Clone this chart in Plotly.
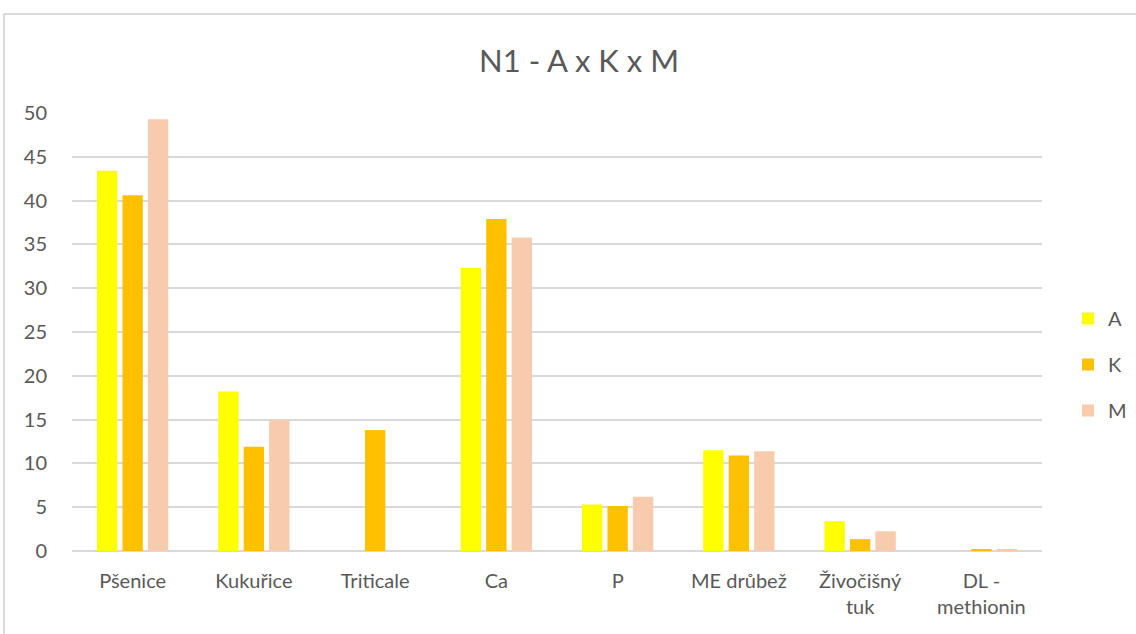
import plotly.graph_objects as go

categories = ["Pšenice", "Kukuřice", "Triticale", "Ca", "P", "ME drůbež",
              "Živočišný<br>tuk", "DL -<br>methionin"]
series_names = ["A", "K", "M"]
values_a = [43.4, 18.2, 0, 32.3, 5.3, 11.5, 3.4, 0]
values_k = [40.6, 11.9, 13.8, 37.9, 5.15, 10.9, 1.35, 0.2]
values_m = [49.3, 15.0, 0, 35.8, 6.2, 11.4, 2.25, 0.2]
colors = ["#FFFF00", "#FFC000", "#F8CBAD"]
y_ticks = [0, 5, 10, 15, 20, 25, 30, 35, 40, 45, 50]

font_family = "Lato, Open Sans, sans-serif"
grey_text = "#595959"
grid = "#D9D9D9"

fig = go.Figure()
for name, vals, col in zip(series_names, [values_a, values_k, values_m], colors):
    fig.add_trace(go.Bar(
        x=categories, y=vals, name=name, legendgroup=name,
        marker=dict(color=col, line=dict(width=0)),
    ))

L, R, T, B = 72, 94, 113, 83
W, H = 1136, 634
pw, ph = W - L - R, H - T - B

def px_x(x):
    return (x - L) / pw

def px_y(y):
    return (H - B - y) / ph

# outer chart frame (top and left edges visible)
fig.add_shape(type="line", xref="paper", yref="paper",
              x0=px_x(4), x1=px_x(1140), y0=px_y(14), y1=px_y(14),
              line=dict(color="#D9D9D9", width=2))
fig.add_shape(type="line", xref="paper", yref="paper",
              x0=px_x(4), x1=px_x(4), y0=px_y(14), y1=px_y(640),
              line=dict(color="#D9D9D9", width=2))

fig.update_layout(
    width=W, height=H,
    margin=dict(l=L, r=R, t=T, b=B, autoexpand=False),
    paper_bgcolor="white", plot_bgcolor="white",
    barmode="group", bargap=0.37, bargroupgap=0.2,
    title=dict(text="N1 - A x K x M", x=579 / W, xanchor="center", xref="container",
               y=1 - 61 / H, yanchor="middle",
               font=dict(family=font_family, size=31, color=grey_text)),
    font=dict(family=font_family, size=20, color=grey_text),
    legend=dict(x=px_x(1068), y=px_y(299), xanchor="left", yanchor="top",
                traceorder="grouped", tracegroupgap=17,
                font=dict(size=20, color=grey_text),
                itemwidth=30),
    showlegend=True,
)
fig.update_xaxes(showline=False, ticks="", tickfont=dict(size=20, color=grey_text),
                 showgrid=False, ticklabelstandoff=16)
fig.update_yaxes(range=[0, 50], tickvals=y_ticks, showgrid=True, gridcolor=grid,
                 gridwidth=1.5, zeroline=True, zerolinecolor=grid, zerolinewidth=1.5,
                 showline=False, ticks="", ticklabelstandoff=24,
                 tickfont=dict(size=20, color=grey_text))

fig.write_html("out.html")
